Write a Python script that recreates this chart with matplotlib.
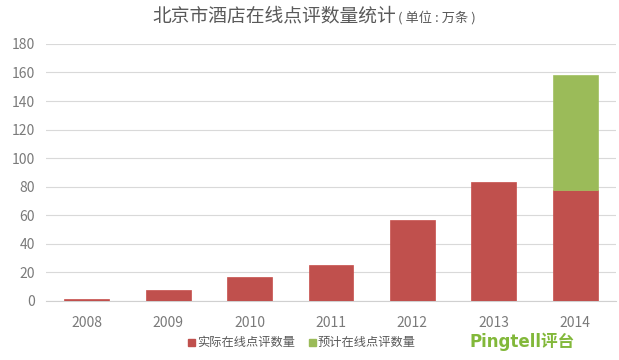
import matplotlib
matplotlib.use("Agg")
import matplotlib.pyplot as plt
from matplotlib.patches import Rectangle

plt.rcParams['font.family'] = ['Noto Sans CJK SC', 'DejaVu Sans']

years = ['2008', '2009', '2010', '2011', '2012', '2013', '2014']
actual = [1.5, 7.7, 17, 25, 57, 83, 78]
forecast = [0, 0, 0, 0, 0, 0, 80]
yticks = [0, 20, 40, 60, 80, 100, 120, 140, 160, 180]

red = '#C0504D'
green = '#9BBB59'
gray = '#595959'
tickgray = '#7A7A7A'

fig = plt.figure(figsize=(6.19, 3.6), dpi=100)
ax = fig.add_axes([0.0743, 0.164, 0.9207, 0.714])

x = list(range(len(years)))
ax.bar(x, actual, width=0.55, color=red, edgecolor='#C84E4B', linewidth=0.5, zorder=3)
fx = [i for i, v in enumerate(forecast) if v > 0]
ax.bar(fx, [forecast[i] for i in fx], bottom=[actual[i] for i in fx], width=0.55,
       color=green, edgecolor='#A0C060', linewidth=0.5, zorder=3)

ax.set_xlim(-0.5, 6.5)
ax.set_ylim(0, 180)
ax.set_yticks(yticks)
ax.set_xticks(x)
ax.set_xticklabels(years)
ax.tick_params(axis='both', length=0, colors=tickgray, labelsize=10)
ax.tick_params(axis='y', pad=8)
ax.tick_params(axis='x', pad=10.5)
ax.grid(axis='y', color='#D9D9D9', linewidth=0.8, zorder=0)
for s in ['top', 'right', 'left']:
    ax.spines[s].set_visible(False)
ax.spines['bottom'].set_color('#D0D0D0')
ax.spines['bottom'].set_linewidth(0.8)

# Title
fig.text(0.2456, 0.956, '北京市酒店在线点评数量统计', fontsize=13.5, color=gray, ha='left', va='center')
fig.text(0.643, 0.952, '( 单位 : 万条 )', fontsize=9.5, color=gray, ha='left', va='center')

# Legend
fig.patches.append(Rectangle((0.3037, 0.040), 0.0113, 0.0195, transform=fig.transFigure,
                             color=red, figure=fig))
fig.text(0.319, 0.050, '实际在线点评数量', fontsize=8.8, color=gray, ha='left', va='center')
fig.patches.append(Rectangle((0.4985, 0.040), 0.0113, 0.0195, transform=fig.transFigure,
                             color=green, figure=fig))
fig.text(0.5136, 0.050, '预计在线点评数量', fontsize=8.8, color=gray, ha='left', va='center')

# Logo
fig.text(0.759, 0.050, 'Pingtell评台', fontsize=12, color='#82B83A', fontweight='bold',
         ha='left', va='center', family=['DejaVu Sans', 'Noto Sans CJK SC'])

fig.savefig('out.png', dpi=100)
